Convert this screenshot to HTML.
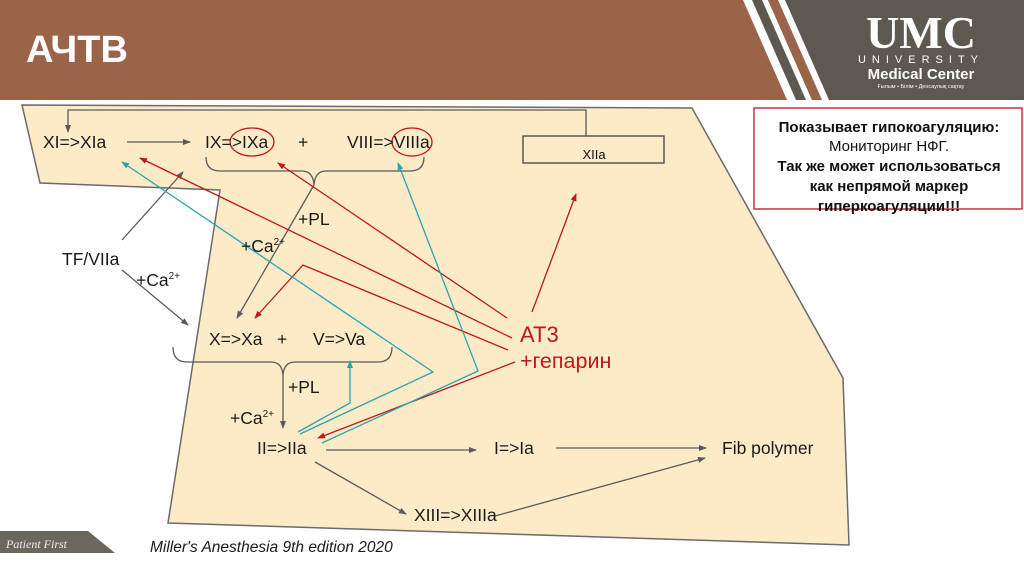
<!DOCTYPE html>
<html><head><meta charset="utf-8"><style>
html,body{margin:0;padding:0;background:#fff;}
svg{display:block;font-family:"Liberation Sans",sans-serif;}
</style></head><body>
<svg width="1024" height="576" viewBox="0 0 1024 576" xmlns="http://www.w3.org/2000/svg">
<defs>
<marker id="ag" markerWidth="8" markerHeight="8" refX="7" refY="4" orient="auto" markerUnits="userSpaceOnUse"><path d="M0,1 L8,4 L0,7 z" fill="#5a5a5a"/></marker>
<marker id="ar" markerWidth="8" markerHeight="8" refX="7" refY="4" orient="auto" markerUnits="userSpaceOnUse"><path d="M0,1 L8,4 L0,7 z" fill="#c0161c"/></marker>
<marker id="at" markerWidth="8" markerHeight="8" refX="7" refY="4" orient="auto" markerUnits="userSpaceOnUse"><path d="M0,1 L8,4 L0,7 z" fill="#2aa3b0"/></marker>
</defs>
<rect x="0" y="0" width="1024" height="100" fill="#5d5850"/>
<polygon points="0,0 743,0 787,100 0,100" fill="#9a6449"/>
<polygon points="743,0 752,0 796,100 787,100" fill="#fff"/>
<polygon points="762,0 768,0 812,100 806,100" fill="#fff"/>
<polygon points="768,0 778,0 822,100 812,100" fill="#9a6449"/>
<polygon points="778,0 785,0 829,100 822,100" fill="#fff"/>
<text x="26" y="62" font-size="38" font-weight="bold" fill="#fff">АЧТВ</text>
<text x="921" y="48" font-size="46" font-weight="bold" fill="#fff" text-anchor="middle" font-family="Liberation Serif,serif">UMC</text>
<text x="921" y="63" font-size="11" fill="#fff" text-anchor="middle" letter-spacing="6">UNIVERSITY</text>
<text x="921" y="79" font-size="15" font-weight="bold" fill="#fff" text-anchor="middle">Medical Center</text>
<text x="921" y="88" font-size="5.5" fill="#fff" text-anchor="middle">Ғылым • Білім • Денсаулық сақтау</text>
<polygon points="22,105 692,108 843,378 849,545 168,523 220,190 40,183" fill="#fdebc7" stroke="#6b6b6b" stroke-width="1.5"/>
<rect x="754" y="108" width="268" height="101" fill="#fff" stroke="#c8303f" stroke-width="1.5"/>
<g font-size="15" text-anchor="middle" fill="#111">
<text x="889" y="132" font-weight="bold">Показывает гипокоагуляцию:</text>
<text x="889" y="151">Мониторинг НФГ.</text>
<text x="889" y="171" font-weight="bold">Так же может использоваться</text>
<text x="889" y="191" font-weight="bold">как непрямой маркер</text>
<text x="889" y="211" font-weight="bold">гиперкоагуляции!!!</text>
</g>
<g stroke="#5a5a5a" stroke-width="1.3" fill="none">
<path d="M586,136 V110 H68 V132" marker-end="url(#ag)"/>
<line x1="127" y1="142" x2="190" y2="142" marker-end="url(#ag)"/>
<path d="M206,157 Q206,171 220,171 H302 Q313,171 314,185 Q315,171 326,171 H410 Q424,171 424,157"/>
<line x1="314" y1="185" x2="237" y2="318" marker-end="url(#ag)"/>
<line x1="122" y1="240" x2="183" y2="172" marker-end="url(#ag)"/>
<line x1="122" y1="270" x2="188" y2="325" marker-end="url(#ag)"/>
<path d="M173,347 Q173,362 187,362 H271 Q282,362 283,375 Q284,362 295,362 H378 Q392,362 392,347"/>
<line x1="283" y1="375" x2="283" y2="428" marker-end="url(#ag)"/>
<line x1="326" y1="450" x2="476" y2="450" marker-end="url(#ag)"/>
<line x1="556" y1="448" x2="706" y2="448" marker-end="url(#ag)"/>
<line x1="315" y1="462" x2="406" y2="514" marker-end="url(#ag)"/>
<line x1="495" y1="516" x2="705" y2="458" marker-end="url(#ag)"/>
</g>
<rect x="523" y="136" width="141" height="27" fill="none" stroke="#444" stroke-width="1.3"/>
<text x="594" y="159" font-size="13" text-anchor="middle" fill="#111">XIIa</text>
<g stroke="#c0161c" stroke-width="1.3" fill="none">
<line x1="507" y1="318" x2="278" y2="163" marker-end="url(#ar)"/>
<line x1="512" y1="338" x2="140" y2="158" marker-end="url(#ar)"/>
<polyline points="508,350 303,265 255,318" marker-end="url(#ar)"/>
<line x1="515" y1="362" x2="318" y2="438" marker-end="url(#ar)"/>
<line x1="532" y1="312" x2="576" y2="194" marker-end="url(#ar)"/>
<ellipse cx="252" cy="142" rx="22" ry="14"/>
<ellipse cx="412" cy="142" rx="20" ry="14"/>
</g>
<g stroke="#2aa3b0" stroke-width="1.3" fill="none">
<polyline points="300,434 433,372 122,162" marker-end="url(#at)"/>
<polyline points="322,443 478,371 398,163" marker-end="url(#at)"/>
<polyline points="298,432 350,403 350,361" marker-end="url(#at)"/>
</g>
<g font-size="17.5" fill="#1a1a1a">
<text x="43" y="148">XI=&gt;XIa</text>
<text x="205" y="148">IX=&gt;IXa</text>
<text x="298" y="148">+</text>
<text x="347" y="148">VIII=&gt;VIIIa</text>
<text x="298" y="225">+PL</text>
<text x="241" y="252">+Ca<tspan font-size="10" dy="-7">2+</tspan></text>
<text x="62" y="265">TF/VIIa</text>
<text x="136" y="286">+Ca<tspan font-size="10" dy="-7">2+</tspan></text>
<text x="209" y="345">X=&gt;Xa</text>
<text x="277" y="345">+</text>
<text x="313" y="345">V=&gt;Va</text>
<text x="288" y="393">+PL</text>
<text x="230" y="424">+Ca<tspan font-size="10" dy="-7">2+</tspan></text>
<text x="257" y="454">II=&gt;IIa</text>
<text x="494" y="454">I=&gt;Ia</text>
<text x="722" y="454">Fib polymer</text>
<text x="414" y="521">XIII=&gt;XIIIa</text>
</g>
<text x="520" y="342" font-size="22" fill="#c0161c">AT3</text>
<text x="520" y="368" font-size="21.5" fill="#c0161c">+гепарин</text>
<text x="150" y="552" font-size="15.5" font-style="italic" fill="#1a1a1a">Miller's Anesthesia 9th edition 2020</text>
<polygon points="0,531 88,531 115,553 0,553" fill="#6b675f"/>
<text x="6" y="548" font-size="12" font-style="italic" fill="#eee" font-family="Liberation Serif,serif">Patient First</text>
</svg>
</body></html>
